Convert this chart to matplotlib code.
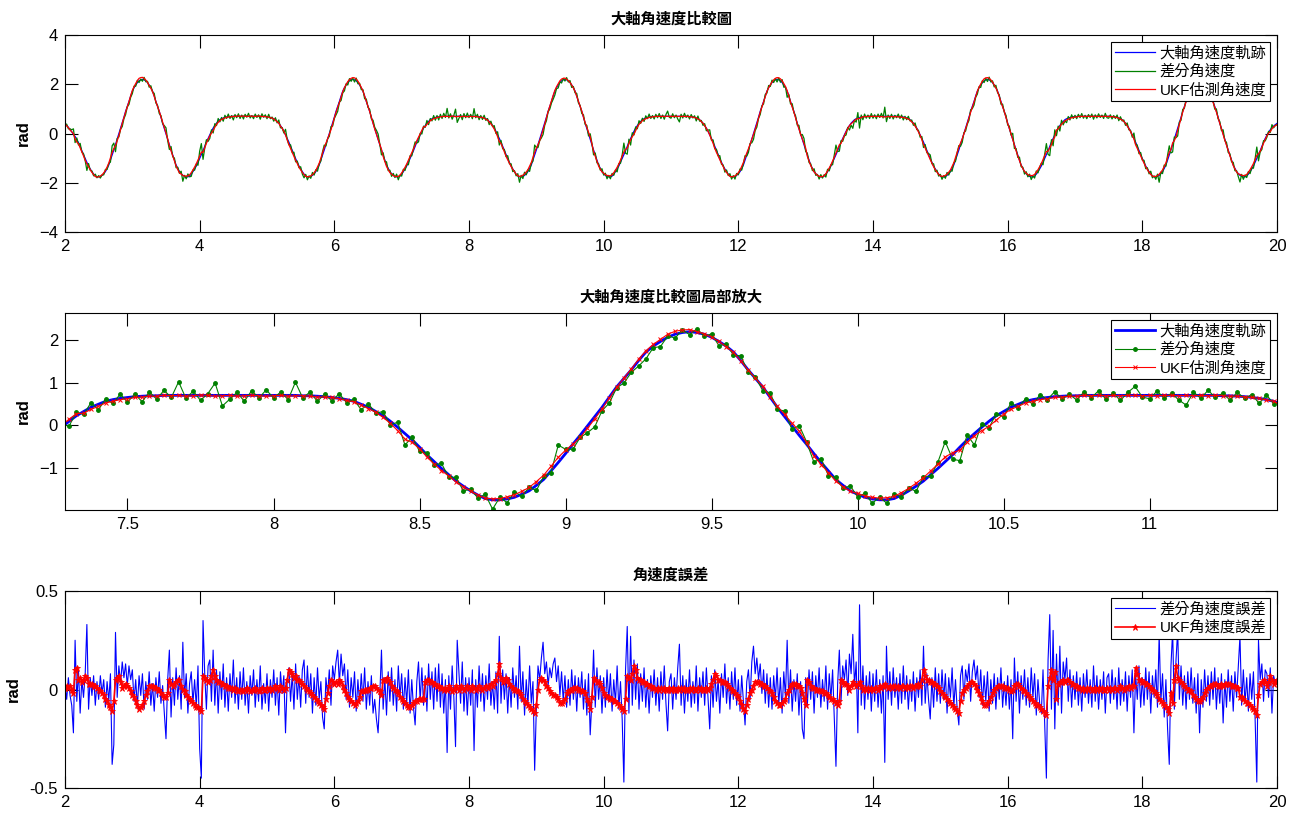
import numpy as np
import matplotlib
matplotlib.use("Agg")
import matplotlib.pyplot as plt
from matplotlib.ticker import FuncFormatter

# ---------------------------------------------------------------------------
# data (sample step 0.025 s, starting at t = 2 s)
# ---------------------------------------------------------------------------
t_start = 2.0
dt = 0.025

# reference angular velocity of the main shaft (rad)
ref = [
    0.40, 0.33, 0.25, 0.16, 0.07, -0.03, -0.12, -0.24, -0.37, -0.52, -0.70, -0.86, -1.02, -1.17, -1.32, -1.44, -1.55, -1.65, -1.73, -1.76,
    -1.76, -1.74, -1.70, -1.63, -1.55, -1.42, -1.28, -1.08, -0.88, -0.67, -0.45, -0.24, -0.02, 0.20, 0.42, 0.66, 0.90, 1.10, 1.30, 1.52,
    1.72, 1.86, 1.97, 2.07, 2.14, 2.18, 2.20, 2.18, 2.14, 2.07, 1.97, 1.86, 1.72, 1.52, 1.30, 1.10, 0.90, 0.66, 0.42, 0.20,
    -0.02, -0.24, -0.45, -0.67, -0.88, -1.08, -1.28, -1.42, -1.55, -1.63, -1.70, -1.74, -1.76, -1.76, -1.73, -1.65, -1.55, -1.44, -1.32, -1.17,
    -1.02, -0.86, -0.70, -0.52, -0.35, -0.20, -0.05, 0.09, 0.22, 0.32, 0.42, 0.49, 0.56, 0.60, 0.63, 0.65, 0.67, 0.68, 0.69, 0.69,
    0.70, 0.70, 0.70, 0.70, 0.70, 0.70, 0.70, 0.70, 0.70, 0.70, 0.70, 0.70, 0.70, 0.70, 0.70, 0.70, 0.70, 0.70, 0.69, 0.69,
    0.68, 0.67, 0.65, 0.63, 0.60, 0.56, 0.49, 0.42, 0.32, 0.22, 0.09, -0.05, -0.20, -0.35, -0.52, -0.70, -0.86, -1.02, -1.17, -1.32,
    -1.44, -1.55, -1.65, -1.73, -1.76, -1.76, -1.74, -1.70, -1.63, -1.55, -1.42, -1.28, -1.08, -0.88, -0.67, -0.45, -0.24, -0.02, 0.20, 0.42,
    0.66, 0.90, 1.10, 1.30, 1.52, 1.72, 1.86, 1.97, 2.07, 2.14, 2.18, 2.20, 2.18, 2.14, 2.07, 1.97, 1.86, 1.72, 1.52, 1.30,
    1.10, 0.90, 0.66, 0.42, 0.20, -0.02, -0.24, -0.45, -0.67, -0.88, -1.08, -1.28, -1.42, -1.55, -1.63, -1.70, -1.74, -1.76, -1.76, -1.73,
    -1.65, -1.55, -1.44, -1.32, -1.17, -1.02, -0.86, -0.70, -0.52, -0.35, -0.20, -0.05, 0.09, 0.22, 0.32, 0.42, 0.49, 0.56, 0.60, 0.63,
    0.65, 0.67, 0.68, 0.69, 0.69, 0.70, 0.70, 0.70, 0.70, 0.70, 0.70, 0.70, 0.70, 0.70, 0.70, 0.70, 0.70, 0.70, 0.70, 0.70,
    0.70, 0.70, 0.70, 0.70, 0.69, 0.69, 0.68, 0.67, 0.65, 0.63, 0.60, 0.56, 0.49, 0.42, 0.32, 0.22, 0.09, -0.05, -0.20, -0.35,
    -0.52, -0.70, -0.86, -1.02, -1.17, -1.32, -1.44, -1.55, -1.65, -1.73, -1.76, -1.76, -1.74, -1.70, -1.63, -1.55, -1.42, -1.28, -1.08, -0.88,
    -0.67, -0.45, -0.24, -0.02, 0.20, 0.42, 0.66, 0.90, 1.10, 1.30, 1.52, 1.72, 1.86, 1.97, 2.07, 2.14, 2.18, 2.20, 2.18, 2.14,
    2.07, 1.97, 1.86, 1.72, 1.52, 1.30, 1.10, 0.90, 0.66, 0.42, 0.20, -0.02, -0.24, -0.45, -0.67, -0.88, -1.08, -1.28, -1.42, -1.55,
    -1.63, -1.70, -1.74, -1.76, -1.76, -1.73, -1.65, -1.55, -1.44, -1.32, -1.17, -1.02, -0.86, -0.70, -0.52, -0.35, -0.20, -0.05, 0.09, 0.22,
    0.32, 0.42, 0.49, 0.56, 0.60, 0.63, 0.65, 0.67, 0.68, 0.69, 0.69, 0.70, 0.70, 0.70, 0.70, 0.70, 0.70, 0.70, 0.70, 0.70,
    0.70, 0.70, 0.70, 0.70, 0.70, 0.70, 0.70, 0.70, 0.70, 0.70, 0.69, 0.69, 0.68, 0.67, 0.65, 0.63, 0.60, 0.56, 0.49, 0.42,
    0.32, 0.22, 0.09, -0.05, -0.20, -0.35, -0.52, -0.70, -0.86, -1.02, -1.17, -1.32, -1.44, -1.55, -1.65, -1.73, -1.76, -1.76, -1.74, -1.70,
    -1.63, -1.55, -1.42, -1.28, -1.08, -0.88, -0.67, -0.45, -0.24, -0.02, 0.20, 0.42, 0.66, 0.90, 1.10, 1.30, 1.52, 1.72, 1.86, 1.97,
    2.07, 2.14, 2.18, 2.20, 2.18, 2.14, 2.07, 1.97, 1.86, 1.72, 1.52, 1.30, 1.10, 0.90, 0.66, 0.42, 0.20, -0.02, -0.24, -0.45,
    -0.67, -0.88, -1.08, -1.28, -1.42, -1.55, -1.63, -1.70, -1.74, -1.76, -1.76, -1.73, -1.65, -1.55, -1.44, -1.32, -1.17, -1.02, -0.86, -0.70,
    -0.52, -0.35, -0.20, -0.05, 0.09, 0.22, 0.32, 0.42, 0.49, 0.56, 0.60, 0.63, 0.65, 0.67, 0.68, 0.69, 0.69, 0.70, 0.70, 0.70,
    0.70, 0.70, 0.70, 0.70, 0.70, 0.70, 0.70, 0.70, 0.70, 0.70, 0.70, 0.70, 0.70, 0.70, 0.70, 0.69, 0.69, 0.68, 0.67, 0.65,
    0.63, 0.60, 0.56, 0.49, 0.42, 0.32, 0.22, 0.09, -0.05, -0.20, -0.35, -0.52, -0.70, -0.86, -1.02, -1.17, -1.32, -1.44, -1.55, -1.65,
    -1.73, -1.76, -1.76, -1.74, -1.70, -1.63, -1.55, -1.42, -1.28, -1.08, -0.88, -0.67, -0.45, -0.24, -0.02, 0.20, 0.42, 0.66, 0.90, 1.10,
    1.30, 1.52, 1.72, 1.86, 1.97, 2.07, 2.14, 2.18, 2.20, 2.18, 2.14, 2.07, 1.97, 1.86, 1.72, 1.52, 1.30, 1.10, 0.90, 0.66,
    0.42, 0.20, -0.02, -0.24, -0.45, -0.67, -0.88, -1.08, -1.28, -1.42, -1.55, -1.63, -1.70, -1.74, -1.76, -1.76, -1.73, -1.65, -1.55, -1.44,
    -1.32, -1.17, -1.02, -0.86, -0.70, -0.52, -0.35, -0.20, -0.05, 0.09, 0.22, 0.32, 0.42, 0.49, 0.56, 0.60, 0.63, 0.65, 0.67, 0.68,
    0.69, 0.69, 0.70, 0.70, 0.70, 0.70, 0.70, 0.70, 0.70, 0.70, 0.70, 0.70, 0.70, 0.70, 0.70, 0.70, 0.70, 0.70, 0.70, 0.70,
    0.70, 0.69, 0.69, 0.68, 0.67, 0.65, 0.63, 0.60, 0.56, 0.49, 0.42, 0.32, 0.22, 0.09, -0.05, -0.20, -0.35, -0.52, -0.70, -0.86,
    -1.02, -1.17, -1.32, -1.44, -1.55, -1.65, -1.73, -1.76, -1.76, -1.74, -1.70, -1.63, -1.55, -1.42, -1.28, -1.08, -0.88, -0.67, -0.45, -0.24,
    -0.02, 0.20, 0.42, 0.66, 0.90, 1.10, 1.30, 1.52, 1.72, 1.86, 1.97, 2.07, 2.14, 2.18, 2.20, 2.18, 2.14, 2.07, 1.97, 1.86,
    1.72, 1.52, 1.30, 1.10, 0.90, 0.66, 0.42, 0.20, -0.02, -0.24, -0.45, -0.67, -0.88, -1.08, -1.28, -1.42, -1.55, -1.63, -1.70, -1.74,
    -1.76, -1.76, -1.73, -1.65, -1.55, -1.44, -1.32, -1.17, -1.02, -0.86, -0.70, -0.52, -0.35, -0.20, -0.07, 0.05, 0.15, 0.24, 0.30, 0.36,
    0.41,
]

# error of the finite-difference estimate (reference - estimate)
diff_err = [
    0.02, -0.05, 0.06, -0.03, -0.08, -0.22, 0.25, -0.06, 0.10, -0.12, 0.05, -0.04, 0.08, 0.33, -0.10, 0.06, -0.03, 0.07, -0.08, 0.04,
    -0.05, 0.07, -0.02, 0.05, -0.09, 0.04, -0.06, 0.08, -0.38, -0.28, 0.29, -0.04, 0.12, 0.03, 0.14, 0.06, 0.13, 0.02, 0.12, 0.05,
    0.10, -0.06, 0.05, -0.09, 0.07, -0.03, 0.08, -0.10, 0.04, -0.05, 0.09, -0.08, 0.03, -0.11, 0.06, -0.04, 0.09, -0.07, 0.02, -0.12,
    -0.25, 0.05, 0.20, -0.14, 0.06, -0.08, 0.11, -0.05, 0.07, -0.10, 0.24, -0.04, 0.08, -0.12, 0.03, 0.09, -0.07, 0.05, -0.09, 0.12,
    -0.30, -0.45, 0.35, 0.08, -0.10, 0.12, 0.15, -0.06, 0.20, -0.08, 0.10, -0.12, 0.09, -0.05, 0.13, -0.09, 0.06, -0.11, 0.08, -0.04,
    0.15, -0.07, 0.06, -0.10, 0.09, -0.05, 0.11, -0.08, 0.04, -0.12, 0.07, -0.03, 0.10, -0.09, 0.05, -0.06, 0.12, -0.10, 0.03, -0.07,
    0.08, -0.11, 0.05, -0.04, 0.10, -0.08, 0.06, -0.13, 0.09, -0.02, 0.07, -0.22, 0.04, 0.11, -0.06, 0.08, -0.10, 0.13, -0.05, 0.07,
    -0.09, 0.10, 0.15, -0.07, 0.12, -0.04, 0.08, -0.12, 0.06, -0.08, 0.11, -0.05, 0.04, -0.14, -0.20, 0.06, -0.03, 0.10, -0.08, 0.12,
    0.05, 0.14, 0.20, 0.03, 0.18, 0.07, 0.13, -0.05, 0.10, -0.09, 0.06, -0.04, 0.09, -0.11, 0.05, -0.07, 0.08, -0.06, 0.11, -0.10,
    0.04, -0.08, 0.07, -0.12, -0.05, -0.15, -0.22, -0.03, 0.20, -0.10, 0.06, -0.13, 0.09, -0.06, 0.11, -0.08, 0.05, -0.11, 0.12, -0.04,
    0.08, -0.10, 0.06, -0.07, 0.10, -0.12, 0.05, -0.09, -0.18, 0.04, 0.14, -0.06, 0.11, -0.08, 0.07, -0.11, 0.13, -0.05, 0.09, -0.10,
    0.11, -0.06, 0.13, -0.09, 0.08, -0.12, 0.05, -0.32, 0.07, -0.10, 0.12, -0.04, -0.29, 0.25, 0.09, -0.07, 0.14, -0.11, 0.06, -0.13,
    0.06, -0.08, 0.10, -0.31, 0.05, -0.09, 0.12, -0.06, 0.08, -0.11, 0.07, -0.05, 0.13, -0.08, 0.04, -0.10, 0.09, -0.12, 0.27, -0.07,
    0.10, -0.05, 0.08, -0.12, 0.06, -0.09, 0.11, -0.04, 0.07, -0.10, 0.22, -0.06, 0.09, -0.13, 0.05, -0.08, 0.12, -0.07, 0.04, -0.41,
    -0.10, 0.12, 0.05, 0.16, 0.24, 0.08, 0.14, 0.02, 0.11, 0.06, 0.13, 0.16, 0.04, 0.12, -0.03, 0.09, -0.06, 0.07, -0.09, 0.05,
    -0.08, 0.10, -0.05, 0.07, -0.11, 0.06, -0.04, 0.09, -0.10, 0.05, -0.13, 0.08, -0.23, -0.06, 0.20, -0.09, 0.11, -0.05, 0.07, -0.12,
    0.06, -0.09, 0.10, -0.06, 0.08, -0.11, 0.05, -0.07, 0.12, -0.10, 0.04, -0.15, -0.47, 0.10, 0.32, -0.12, 0.27, -0.08, 0.15, -0.05,
    0.13, -0.10, 0.08, -0.06, 0.11, -0.09, 0.05, -0.12, 0.07, -0.04, 0.10, -0.08, 0.06, -0.11, 0.09, -0.05, 0.12, -0.07, -0.21, 0.04,
    0.08, -0.10, 0.06, -0.05, 0.11, 0.23, -0.08, 0.07, -0.12, 0.05, -0.06, 0.10, -0.09, 0.04, -0.07, 0.12, -0.11, 0.06, -0.04, 0.09,
    -0.08, 0.11, -0.05, -0.20, 0.07, -0.09, 0.10, -0.06, 0.05, -0.12, 0.08, -0.04, 0.13, -0.07, 0.06, -0.10, 0.09, -0.05, 0.11, -0.08,
    0.05, -0.11, 0.07, -0.06, -0.18, 0.04, 0.10, -0.05, 0.14, 0.22, 0.08, 0.16, 0.05, 0.13, -0.02, 0.10, -0.07, 0.08, -0.09, 0.06,
    -0.10, 0.07, -0.05, 0.11, -0.08, 0.06, -0.12, 0.09, -0.04, 0.25, -0.07, 0.10, -0.11, 0.05, -0.06, 0.08, -0.13, 0.04, -0.20, -0.25,
    0.06, -0.08, 0.10, -0.05, 0.09, -0.12, 0.07, -0.04, 0.11, -0.09, 0.05, -0.06, 0.12, -0.10, 0.08, -0.05, 0.10, -0.14, -0.39, 0.03,
    0.20, -0.06, 0.12, 0.05, 0.15, -0.03, 0.18, 0.08, 0.28, 0.02, 0.14, -0.22, 0.43, -0.08, 0.12, -0.10, 0.07, -0.05, 0.09, -0.11,
    0.08, -0.06, 0.10, -0.09, 0.05, -0.12, 0.07, -0.37, 0.22, -0.05, 0.09, -0.08, 0.11, -0.04, 0.06, -0.10, 0.08, -0.07, 0.12, -0.05,
    0.07, -0.10, 0.05, -0.06, 0.09, -0.11, 0.06, -0.04, 0.10, -0.08, 0.22, -0.07, 0.08, -0.05, -0.15, 0.06, -0.09, 0.11, -0.06, 0.08,
    -0.07, 0.10, -0.05, 0.08, -0.12, 0.06, -0.04, 0.11, -0.09, 0.05, -0.10, -0.18, 0.07, 0.12, -0.05, 0.10, 0.04, 0.13, -0.06, 0.09,
    0.15, 0.05, 0.12, -0.04, 0.10, -0.08, 0.07, -0.06, 0.09, -0.11, 0.05, -0.07, 0.08, -0.10, 0.06, -0.05, 0.11, -0.09, 0.04, -0.08,
    0.07, -0.10, 0.05, -0.25, 0.16, -0.06, 0.09, -0.12, 0.07, -0.05, 0.10, -0.08, 0.06, -0.09, 0.11, -0.04, 0.08, -0.13, 0.05, -0.07,
    -0.12, 0.10, -0.18, -0.45, 0.15, 0.38, -0.10, 0.30, -0.20, 0.18, -0.08, 0.22, -0.12, 0.14, 0.05, 0.16, -0.06, 0.10, -0.09, 0.07,
    -0.05, 0.09, -0.08, 0.06, -0.11, 0.08, -0.04, 0.10, -0.07, 0.05, -0.09, 0.12, -0.06, 0.07, -0.10, 0.05, -0.05, 0.09, -0.12, 0.06,
    0.08, -0.07, 0.10, -0.05, 0.06, -0.10, 0.11, -0.08, 0.05, -0.06, 0.09, -0.11, 0.07, -0.04, 0.10, -0.22, 0.08, -0.05, 0.12, -0.09,
    0.06, -0.08, 0.11, -0.05, 0.09, -0.12, 0.07, -0.04, 0.10, -0.09, 0.28, -0.06, 0.08, -0.14, 0.05, -0.20, -0.38, 0.12, 0.30, -0.10,
    0.15, 0.30, -0.05, 0.12, -0.08, 0.07, -0.10, 0.09, -0.05, 0.11, -0.07, 0.06, -0.12, 0.08, -0.22, 0.05, -0.09, 0.10, -0.06, 0.07,
    -0.08, 0.09, -0.05, 0.11, -0.10, 0.06, -0.07, 0.08, -0.17, 0.05, -0.09, 0.10, -0.06, 0.07, -0.11, 0.09, -0.04, 0.12, 0.27, -0.08,
    0.10, -0.07, 0.06, -0.11, 0.08, -0.05, 0.09, -0.15, -0.47, 0.25, 0.05, 0.13, -0.06, 0.10, 0.08, -0.04, 0.11, -0.12, 0.07, 0.03,
    0.05,
]

# error of the UKF estimate (reference - estimate)
ukf_err = [
    0.01, 0.02, 0.01, 0.02, 0.00, -0.02, 0.10, 0.11, 0.05, 0.06, 0.04, 0.05, 0.07, 0.06, 0.03, 0.03, 0.03, 0.02, 0.02, 0.01,
    0.00, -0.01, -0.02, -0.03, -0.05, -0.06, -0.08, -0.09, -0.11, -0.06, 0.05, 0.06, 0.07, 0.04, 0.01, 0.02, 0.03, 0.02, 0.01, -0.01,
    -0.03, -0.04, -0.06, -0.08, -0.10, -0.09, -0.08, -0.06, -0.03, -0.01, 0.02, 0.02, 0.02, 0.01, 0.01, 0.00, 0.00, -0.02, -0.03, -0.04,
    -0.04, -0.02, 0.05, 0.03, 0.02, 0.03, 0.04, 0.05, 0.05, 0.02, 0.00, -0.01, -0.03, -0.04, -0.05, -0.06, -0.07, -0.08, -0.09, -0.09,
    -0.10, -0.11, 0.07, 0.06, 0.05, 0.04, 0.05, 0.07, 0.10, 0.07, 0.05, 0.04, 0.04, 0.03, 0.03, 0.02, 0.02, 0.01, 0.01, 0.01,
    0.00, 0.01, 0.00, -0.01, 0.00, 0.00, -0.01, 0.00, 0.01, 0.00, -0.01, 0.00, 0.00, 0.01, 0.00, -0.01, 0.00, 0.01, 0.00, 0.00,
    0.01, 0.00, 0.01, 0.00, 0.01, 0.02, 0.01, 0.00, 0.02, 0.01, 0.00, 0.01, 0.05, 0.10, 0.09, 0.08, 0.06, 0.07, 0.05, 0.05,
    0.04, 0.03, 0.02, 0.01, 0.00, -0.01, -0.02, -0.03, -0.04, -0.05, -0.06, -0.07, -0.08, -0.09, -0.10, -0.05, -0.02, 0.02, 0.05, 0.04,
    0.03, 0.04, 0.03, 0.05, 0.04, 0.02, 0.00, -0.02, -0.04, -0.05, -0.06, -0.07, -0.08, -0.07, -0.06, -0.04, -0.01, -0.01, 0.00, 0.00,
    0.00, 0.01, 0.01, 0.02, 0.02, 0.01, 0.00, -0.01, -0.03, 0.05, 0.05, 0.06, 0.05, 0.04, 0.02, 0.01, 0.00, -0.01, -0.02, -0.04,
    -0.05, -0.06, -0.07, -0.08, -0.09, -0.09, -0.08, -0.07, -0.06, -0.06, -0.05, -0.05, -0.05, -0.05, 0.04, 0.05, 0.05, 0.04, 0.04, 0.03,
    0.03, 0.02, 0.02, 0.01, 0.01, 0.00, 0.01, 0.00, 0.02, 0.01, -0.01, 0.00, 0.02, 0.01, 0.00, 0.02, 0.01, 0.00, 0.01, 0.02,
    0.01, 0.00, 0.02, 0.01, 0.00, 0.01, 0.02, 0.01, 0.00, 0.01, 0.02, 0.01, 0.02, 0.03, 0.02, 0.04, 0.05, 0.08, 0.13, 0.06,
    0.04, 0.05, 0.06, 0.05, 0.03, 0.02, 0.01, 0.00, 0.00, -0.01, -0.02, -0.03, -0.05, -0.06, -0.07, -0.08, -0.09, -0.10, -0.11, -0.12,
    -0.08, 0.00, 0.05, 0.06, 0.05, 0.04, 0.02, 0.01, -0.01, -0.02, -0.03, -0.03, -0.04, -0.05, -0.07, -0.07, -0.06, -0.05, -0.02, -0.01,
    0.00, 0.00, 0.01, 0.01, 0.01, 0.00, 0.00, -0.01, -0.01, -0.02, -0.05, -0.07, -0.10, -0.04, 0.06, 0.05, 0.04, 0.04, 0.03, 0.01,
    -0.02, -0.03, -0.04, -0.04, -0.05, -0.05, -0.06, -0.06, -0.07, -0.08, -0.09, -0.10, -0.11, -0.05, 0.07, 0.06, 0.05, 0.08, 0.12, 0.10,
    0.06, 0.05, 0.05, 0.04, 0.04, 0.03, 0.03, 0.02, 0.02, 0.01, 0.01, 0.00, 0.01, 0.00, 0.01, 0.00, 0.01, 0.00, 0.00, 0.01,
    0.00, 0.01, 0.00, 0.00, 0.01, 0.00, 0.01, 0.00, 0.01, 0.00, 0.00, 0.01, 0.00, 0.01, 0.00, 0.00, 0.01, 0.00, 0.01, 0.00,
    0.00, 0.01, 0.00, 0.01, 0.03, 0.05, 0.08, 0.07, 0.05, 0.05, 0.04, 0.04, 0.04, 0.03, 0.02, 0.01, 0.00, -0.01, -0.02, -0.03,
    -0.04, -0.06, -0.08, -0.10, -0.11, -0.08, -0.05, -0.02, 0.00, 0.02, 0.04, 0.04, 0.04, 0.03, 0.03, 0.02, 0.02, 0.01, 0.00, -0.01,
    -0.02, -0.04, -0.06, -0.07, -0.08, -0.08, -0.07, -0.06, -0.05, -0.02, 0.00, 0.02, 0.03, 0.03, 0.03, 0.02, 0.02, 0.01, -0.02, -0.05,
    -0.08, 0.05, 0.04, 0.02, 0.01, 0.01, 0.00, 0.00, 0.00, -0.01, -0.01, -0.02, -0.02, -0.03, -0.04, -0.05, -0.05, -0.06, -0.07, -0.08,
    -0.06, 0.05, 0.04, 0.03, 0.03, 0.02, 0.00, 0.02, 0.04, 0.03, 0.02, 0.03, 0.04, 0.02, 0.00, 0.01, 0.00, 0.01, 0.00, 0.01,
    0.00, 0.01, 0.01, 0.00, 0.02, 0.01, 0.02, 0.03, 0.02, 0.01, 0.02, 0.01, 0.02, 0.02, 0.01, 0.02, 0.01, 0.02, 0.02, 0.01,
    0.02, 0.01, 0.02, 0.02, 0.01, 0.02, 0.02, 0.03, 0.02, 0.05, 0.10, 0.07, 0.05, 0.05, 0.04, 0.04, 0.03, 0.03, 0.02, 0.01,
    -0.01, -0.02, -0.03, -0.04, -0.05, -0.06, -0.07, -0.08, -0.09, -0.10, -0.11, -0.12, -0.06, -0.02, 0.00, 0.01, 0.02, 0.03, 0.04, 0.04,
    0.03, 0.02, 0.00, -0.02, -0.04, -0.06, -0.08, -0.08, -0.07, -0.06, -0.04, -0.02, 0.00, 0.01, 0.02, 0.02, 0.02, 0.02, 0.01, 0.01,
    0.01, 0.00, -0.01, 0.00, 0.02, 0.03, 0.03, 0.02, 0.01, 0.00, -0.01, -0.02, -0.03, -0.04, -0.05, -0.06, -0.07, -0.08, -0.08, -0.09,
    -0.10, -0.11, -0.12, -0.13, 0.02, 0.06, 0.10, 0.05, 0.09, -0.05, 0.03, 0.04, 0.04, 0.05, 0.04, 0.05, 0.05, 0.04, 0.03, 0.03,
    0.02, 0.02, 0.01, 0.01, 0.00, 0.01, 0.00, 0.01, 0.00, 0.01, 0.00, 0.00, 0.01, 0.00, 0.01, 0.00, 0.01, 0.00, 0.00, 0.01,
    0.00, 0.01, 0.00, 0.01, 0.01, 0.00, 0.01, 0.02, 0.01, 0.00, 0.01, 0.01, 0.02, 0.01, 0.02, 0.02, 0.11, 0.08, 0.05, 0.05,
    0.04, 0.04, 0.03, 0.03, 0.02, 0.01, 0.00, -0.01, -0.02, -0.03, -0.05, -0.06, -0.07, -0.08, -0.09, -0.10, -0.12, -0.02, -0.07, 0.05,
    0.12, 0.06, 0.05, 0.04, 0.03, 0.02, 0.01, 0.00, 0.00, -0.01, -0.03, -0.04, -0.05, -0.06, -0.06, -0.05, -0.04, -0.02, 0.00, 0.01,
    0.02, 0.02, 0.03, 0.03, 0.03, 0.02, 0.02, 0.03, 0.02, 0.03, 0.03, 0.03, 0.03, 0.02, 0.02, 0.02, 0.01, 0.01, -0.04, -0.04,
    -0.05, -0.06, -0.07, -0.07, -0.08, -0.09, -0.10, -0.11, -0.13, -0.03, 0.03, 0.04, 0.05, 0.04, 0.02, 0.04, 0.07, 0.05, 0.03, 0.04,
    0.05,
]

titles = ["大軸角速度比較圖", "大軸角速度比較圖局部放大", "角速度誤差"]
labels_top = ["大軸角速度軌跡", "差分角速度", "UKF估測角速度"]
labels_err = ["差分角速度誤差", "UKF角速度誤差"]

# ---------------------------------------------------------------------------
n = min(len(ref), len(diff_err), len(ukf_err))
ref = np.asarray(ref[:n])
diff_err = np.asarray(diff_err[:n])
ukf_err = np.asarray(ukf_err[:n])
t = t_start + dt * np.arange(n)
diff_w = ref - diff_err      # finite-difference angular velocity
ukf_w = ref - ukf_err        # UKF estimate

plt.rcParams["font.family"] = ["Liberation Sans", "Noto Sans CJK TC", "DejaVu Sans"]
plt.rcParams["font.size"] = 12
plt.rcParams["axes.linewidth"] = 0.8
for ax_name in ("xtick", "ytick"):
    plt.rcParams[f"{ax_name}.direction"] = "in"
    plt.rcParams[f"{ax_name}.major.size"] = 9
    plt.rcParams[f"{ax_name}.major.width"] = 0.8
plt.rcParams["xtick.top"] = True
plt.rcParams["ytick.right"] = True

fig = plt.figure(figsize=(13.01, 8.14), dpi=100)
W = 1301.0
H = 814.0


def add_axes(top_px, bottom_px):
    return fig.add_axes([65 / W, 1 - bottom_px / H, (1277 - 65) / W, (bottom_px - top_px) / H])


ax1 = add_axes(35, 232)
ax2 = add_axes(313, 510)
ax3 = add_axes(591, 788)

legend_kw = dict(loc="upper right", fancybox=False, framealpha=1, edgecolor="black",
                 fontsize=11, handlelength=2.6, handletextpad=0.3, borderpad=0.25,
                 labelspacing=0.28, borderaxespad=0.45)

# --- full comparison ---
ax1.plot(t, ref, color="blue", lw=0.9, label=labels_top[0])
ax1.plot(t, diff_w, color="green", lw=0.9, label=labels_top[1])
ax1.plot(t, ukf_w, color="red", lw=0.9, label=labels_top[2])
ax1.set_xlim(2, 20)
ax1.set_ylim(-4, 4)
ax1.set_xticks(np.arange(2, 21, 2))
ax1.set_yticks([-4, -2, 0, 2, 4])
leg = ax1.legend(**legend_kw)
leg.get_frame().set_linewidth(0.8)

# --- zoomed comparison ---
ax2.plot(t, ref, color="blue", lw=2.0, label=labels_top[0])
ax2.plot(t, diff_w, color="green", lw=0.8, marker=".", ms=5, label=labels_top[1])
ax2.plot(t, ukf_w, color="red", lw=0.8, marker="x", ms=3.5, mew=0.7, label=labels_top[2])
ax2.set_xlim(7.286, 11.436)
ax2.set_ylim(-2.0, 2.64)
ax2.set_xticks(np.arange(7.5, 11.01, 0.5))
ax2.set_yticks([-1, 0, 1, 2])
ax2.xaxis.set_major_formatter(FuncFormatter(lambda v, p: f"{v:g}"))
leg = ax2.legend(**legend_kw)
leg.get_frame().set_linewidth(0.8)

# --- errors ---
ax3.plot(t, diff_err, color="blue", lw=0.8, label=labels_err[0])
ax3.plot(t, ukf_err, color="red", lw=1.2, marker="*", ms=4.5, mew=0.6, label=labels_err[1])
ax3.set_xlim(2, 20)
ax3.set_ylim(-0.5, 0.5)
ax3.set_xticks(np.arange(2, 21, 2))
ax3.set_yticks([-0.5, 0, 0.5])
ax3.yaxis.set_major_formatter(FuncFormatter(lambda v, p: f"{v:g}"))
leg = ax3.legend(**legend_kw)
leg.get_frame().set_linewidth(0.8)

for ax, title in zip((ax1, ax2, ax3), titles):
    ax.set_title(title, fontsize=11, fontweight="bold", pad=8)
    ax.set_ylabel("rad", fontsize=12, fontweight="bold", labelpad=6)
    ax.tick_params(labelsize=12, pad=5)

fig.savefig("out.png", dpi=100)
